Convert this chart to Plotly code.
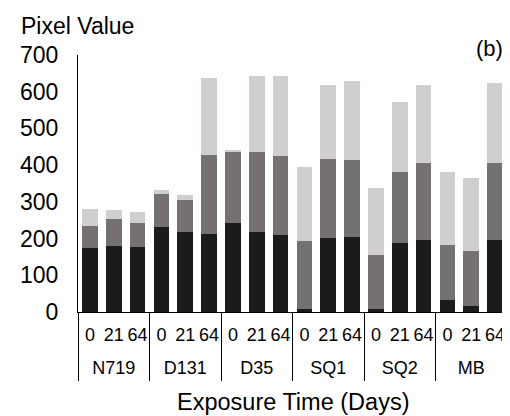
import plotly.graph_objects as go

groups = ["N719", "D131", "D35", "SQ1", "SQ2", "MB"]
days = ["0", "21", "64"]

# cumulative tops (black, dark grey, light grey)
black_top = [175, 181, 178, 232, 219, 212, 243, 219, 211, 8, 202, 203, 8, 188, 197, 34, 16, 197]
dark_top = [235, 253, 243, 322, 305, 428, 435, 437, 426, 193, 417, 414, 155, 382, 407, 183, 167, 407]
light_top = [280, 278, 273, 332, 319, 638, 441, 644, 644, 394, 618, 628, 337, 572, 618, 381, 364, 624]

seg1 = black_top
seg2 = [d - b for d, b in zip(dark_top, black_top)]
seg3 = [l - d for l, d in zip(light_top, dark_top)]

inner = [d for _ in groups for d in days]
xidx = list(range(len(inner)))
n = len(days)
group_centers = [i * n + (n - 1) / 2 for i in range(len(groups))]
boundaries = [i * n - 0.5 for i in range(len(groups) + 1)]
xrange = [-0.5, len(inner) - 0.5]

colors = ["#1b1b1b", "#767171", "#d0cece"]
fig = go.Figure()
for vals, c in zip([seg1, seg2, seg3], colors):
    fig.add_trace(go.Bar(x=xidx, y=vals, marker=dict(color=c, line=dict(width=0)), showlegend=False))
# empty trace so the group-label axis is drawn
fig.add_trace(go.Scatter(x=[], y=[], xaxis="x2", yaxis="y", showlegend=False, hoverinfo="skip"))

font = "Liberation Sans, Arial, sans-serif"
fig.update_layout(
    barmode="stack",
    bargap=0.34,
    width=502, height=408,
    margin=dict(l=70, r=3, t=47, b=104, autoexpand=False),
    plot_bgcolor="white", paper_bgcolor="white",
    font=dict(family=font, color="black"),
    yaxis=dict(
        range=[0, 700], dtick=100, showgrid=False, zeroline=False,
        showline=True, linecolor="black", linewidth=1.3,
        ticks="", tickfont=dict(size=23, family=font), ticklabelstandoff=14,
    ),
    xaxis=dict(
        range=xrange, tickmode="array", tickvals=xidx, ticktext=inner,
        showgrid=False, zeroline=False, showline=True, linecolor="black", linewidth=1.3,
        ticks="", tickangle=0, tickfont=dict(size=18, family=font), ticklabelstandoff=6,
    ),
    xaxis2=dict(
        overlaying="x", anchor="y", side="bottom",
        range=xrange, tickmode="array", tickvals=group_centers, ticktext=groups,
        showgrid=False, zeroline=False, showline=False,
        ticks="", tickangle=0, tickfont=dict(size=18, family=font), ticklabelstandoff=43,
        minor=dict(tickmode="array", tickvals=boundaries, ticks="outside",
                   ticklen=68, tickwidth=1.3, tickcolor="black", showgrid=False),
    ),
)
fig.add_annotation(text="Pixel Value", xref="paper", yref="paper", x=-0.138, y=1.112,
                   xanchor="left", yanchor="middle", showarrow=False,
                   font=dict(size=23, family=font))
fig.add_annotation(text="(b)", xref="paper", yref="paper", x=0.96, y=1.027,
                   xanchor="center", yanchor="middle", showarrow=False,
                   font=dict(size=22, family=font))
fig.add_annotation(text="Exposure Time (Days)", xref="paper", yref="paper", x=0.5, y=-0.35,
                   xanchor="center", yanchor="middle", showarrow=False,
                   font=dict(size=23.5, family=font))
fig.write_html("out.html")
